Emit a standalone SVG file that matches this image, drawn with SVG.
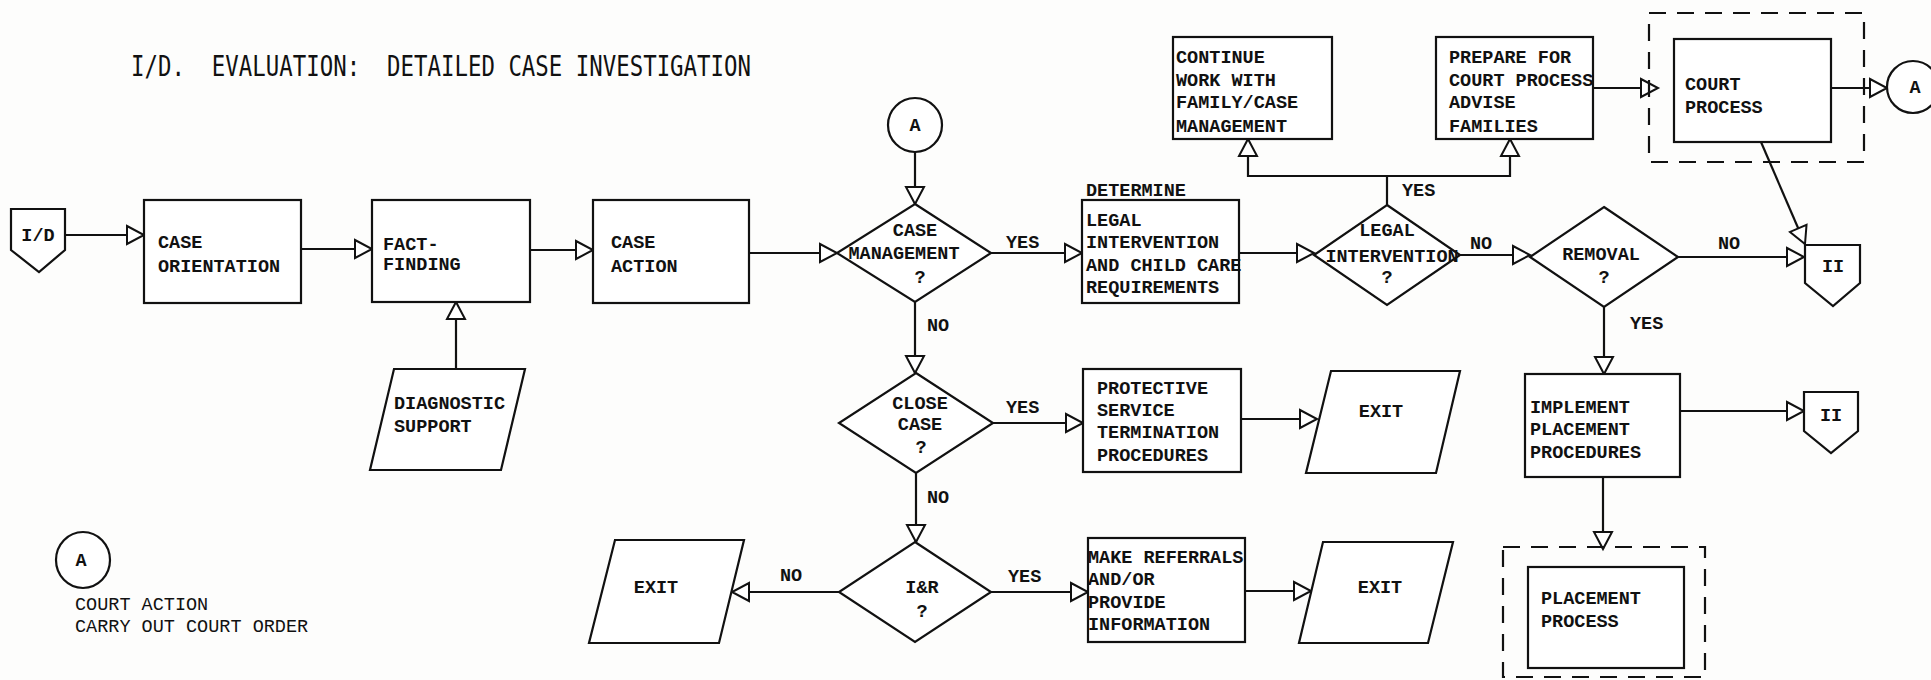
<svg xmlns="http://www.w3.org/2000/svg" width="1931" height="680" viewBox="0 0 1931 680">
<style>
.s{fill:#fff;stroke:#111;stroke-width:2.2}
.d{fill:none;stroke:#111;stroke-width:2.2;stroke-dasharray:17 11}
.c{fill:none;stroke:#111;stroke-width:2.2;marker-end:url(#ah)}
.t{font-family:"Liberation Mono",monospace;font-weight:bold;font-size:18.5px;fill:#111}
.m{text-anchor:middle}
.n{font-weight:normal}
.ti{font-family:"DejaVu Sans Mono","Liberation Mono",monospace;font-size:22.3px;fill:#111;white-space:pre}
</style>
<defs>
<marker id="ah" markerUnits="userSpaceOnUse" markerWidth="20" markerHeight="20" refX="17" refY="9" orient="auto" overflow="visible">
<path d="M0,0 L17,9 L0,18 Z" fill="#fff" stroke="#111" stroke-width="2"/>
</marker>
</defs>
<rect width="1931" height="680" fill="#fdfdfc"/>
<g id="title" transform="translate(131,76) scale(1,1.25)">
<text class="ti" x="0" y="0" xml:space="preserve" textLength="620" lengthAdjust="spacingAndGlyphs">I/D.  EVALUATION:  DETAILED CASE INVESTIGATION</text>
</g>
<g id="connectors">
<path class="c" d="M65,235 H144"/>
<path class="c" d="M301,249 H372"/>
<path class="c" d="M456,369 V302"/>
<path class="c" d="M530,250 H593"/>
<path class="c" d="M749,253 H837"/>
<path class="c" d="M915,152 V204"/>
<path class="c" d="M991,253 H1082"/>
<path class="c" d="M915,302 V373"/>
<path class="c" d="M1239,253 H1314"/>
<path class="c" d="M1387,205 V176 H1248 V139"/>
<path class="c" d="M1387,176 H1510 V139"/>
<path class="c" d="M1460,255 H1530"/>
<path class="c" d="M1678,257 H1804"/>
<path class="c" d="M1593,88 H1658"/>
<path class="c" d="M1831,88 H1887"/>
<path class="c" d="M1761,142 L1805,244"/>
<path class="c" d="M1604,307 V374"/>
<path class="c" d="M1680,411 H1804"/>
<path class="c" d="M1603,477 V549"/>
<path class="c" d="M993,423 H1083"/>
<path class="c" d="M1241,419 H1317"/>
<path class="c" d="M916,473 V542"/>
<path class="c" d="M839,592 H732"/>
<path class="c" d="M991,592 H1088"/>
<path class="c" d="M1245,591 H1311"/>
<text class="t" x="1006" y="248">YES</text>
<text class="t" x="927" y="331">NO</text>
<text class="t" x="1402" y="196">YES</text>
<text class="t" x="1470" y="249">NO</text>
<text class="t" x="1718" y="249">NO</text>
<text class="t" x="1630" y="329">YES</text>
<text class="t" x="1006" y="413">YES</text>
<text class="t" x="927" y="503">NO</text>
<text class="t" x="780" y="581">NO</text>
<text class="t" x="1008" y="582">YES</text>
</g>
<g id="id-start">
<polygon class="s" points="11,209 65,209 65,250 39,272 11,250"/>
<text class="t m" x="38" y="241">I/D</text>
</g>
<g id="case-orientation">
<rect class="s" x="144" y="200" width="157" height="103"/>
<text class="t" x="158" y="248">CASE</text>
<text class="t" x="158" y="272">ORIENTATION</text>
</g>
<g id="fact-finding">
<rect class="s" x="372" y="200" width="158" height="102"/>
<text class="t" x="383" y="250">FACT-</text>
<text class="t" x="383" y="270">FINDING</text>
</g>
<g id="diagnostic-support">
<polygon class="s" points="394,369 525,369 501,470 370,470"/>
<text class="t" x="394" y="409">DIAGNOSTIC</text>
<text class="t" x="394" y="432">SUPPORT</text>
</g>
<g id="case-action">
<rect class="s" x="593" y="200" width="156" height="103"/>
<text class="t" x="611" y="248">CASE</text>
<text class="t" x="611" y="272">ACTION</text>
</g>
<g id="connector-a-top">
<circle class="s" cx="915" cy="125" r="27"/>
<text class="t m" x="915" y="131">A</text>
</g>
<g id="case-management">
<polygon class="s" points="915,204 991,253 915,302 837,253"/>
<text class="t m" x="915" y="236">CASE</text>
<text class="t m" x="904" y="259">MANAGEMENT</text>
<text class="t m" x="920" y="283">?</text>
</g>
<g id="determine">
<text class="t" x="1086" y="196">DETERMINE</text>
<rect class="s" x="1082" y="200" width="157" height="103"/>
<text class="t" x="1086" y="226">LEGAL</text>
<text class="t" x="1086" y="248">INTERVENTION</text>
<text class="t" x="1086" y="271">AND CHILD CARE</text>
<text class="t" x="1086" y="293">REQUIREMENTS</text>
</g>
<g id="continue-work">
<rect class="s" x="1173" y="37" width="159" height="102"/>
<text class="t" x="1176" y="63">CONTINUE</text>
<text class="t" x="1176" y="86">WORK WITH</text>
<text class="t" x="1176" y="108">FAMILY/CASE</text>
<text class="t" x="1176" y="132">MANAGEMENT</text>
</g>
<g id="prepare-court">
<rect class="s" x="1436" y="37" width="157" height="102"/>
<text class="t" x="1449" y="63">PREPARE FOR</text>
<text class="t" x="1449" y="86">COURT PROCESS</text>
<text class="t" x="1449" y="108">ADVISE</text>
<text class="t" x="1449" y="132">FAMILIES</text>
</g>
<g id="legal-intervention">
<polygon class="s" points="1387,205 1460,255 1387,305 1314,255"/>
<text class="t m" x="1387" y="236">LEGAL</text>
<text class="t m" x="1392" y="262">INTERVENTION</text>
<text class="t m" x="1387" y="283">?</text>
</g>
<g id="removal">
<polygon class="s" points="1604,207 1678,257 1604,307 1530,257"/>
<text class="t m" x="1601" y="260">REMOVAL</text>
<text class="t m" x="1604" y="283">?</text>
</g>
<g id="court-process">
<rect class="d" x="1649" y="13" width="215" height="149"/>
<rect class="s" x="1674" y="39" width="157" height="103"/>
<text class="t" x="1685" y="90">COURT</text>
<text class="t" x="1685" y="113">PROCESS</text>
</g>
<g id="connector-a-right">
<circle class="s" cx="1913" cy="87" r="26"/>
<text class="t m" x="1915" y="93">A</text>
</g>
<g id="offpage-ii-top">
<polygon class="s" points="1805,245 1860,245 1860,283 1833,306 1805,283"/>
<text class="t m" x="1833" y="272">II</text>
</g>
<g id="implement-placement">
<rect class="s" x="1525" y="374" width="155" height="103"/>
<text class="t" x="1530" y="413">IMPLEMENT</text>
<text class="t" x="1530" y="435">PLACEMENT</text>
<text class="t" x="1530" y="458">PROCEDURES</text>
</g>
<g id="offpage-ii-bottom">
<polygon class="s" points="1804,392 1858,392 1858,431 1831,453 1804,431"/>
<text class="t m" x="1831" y="421">II</text>
</g>
<g id="placement-process">
<rect class="d" x="1503" y="547" width="202" height="130"/>
<rect class="s" x="1528" y="567" width="156" height="101"/>
<text class="t" x="1541" y="604">PLACEMENT</text>
<text class="t" x="1541" y="627">PROCESS</text>
</g>
<g id="close-case">
<polygon class="s" points="916,373 993,423 916,473 839,423"/>
<text class="t m" x="920" y="409">CLOSE</text>
<text class="t m" x="920" y="430">CASE</text>
<text class="t m" x="921" y="453">?</text>
</g>
<g id="protective-service">
<rect class="s" x="1083" y="369" width="158" height="103"/>
<text class="t" x="1097" y="394">PROTECTIVE</text>
<text class="t" x="1097" y="416">SERVICE</text>
<text class="t" x="1097" y="438">TERMINATION</text>
<text class="t" x="1097" y="461">PROCEDURES</text>
</g>
<g id="exit-1">
<polygon class="s" points="1331,371 1460,371 1436,473 1306,473"/>
<text class="t m" x="1381" y="417">EXIT</text>
</g>
<g id="ir">
<polygon class="s" points="915,542 991,592 915,642 839,592"/>
<text class="t m" x="922" y="593">I&amp;R</text>
<text class="t m" x="922" y="617">?</text>
</g>
<g id="make-referrals">
<rect class="s" x="1088" y="538" width="157" height="104"/>
<text class="t" x="1088" y="563">MAKE REFERRALS</text>
<text class="t" x="1088" y="585">AND/OR</text>
<text class="t" x="1088" y="608">PROVIDE</text>
<text class="t" x="1088" y="630">INFORMATION</text>
</g>
<g id="exit-2">
<polygon class="s" points="1323,542 1453,542 1428,643 1299,643"/>
<text class="t m" x="1380" y="593">EXIT</text>
</g>
<g id="exit-3">
<polygon class="s" points="615,540 744,540 719,643 589,643"/>
<text class="t m" x="656" y="593">EXIT</text>
</g>
<g id="legend">
<ellipse class="s" cx="83" cy="560" rx="27" ry="28"/>
<text class="t m" x="81" y="566">A</text>
<text class="t n" x="75" y="610">COURT ACTION</text>
<text class="t n" x="75" y="632">CARRY OUT COURT ORDER</text>
</g>
</svg>
